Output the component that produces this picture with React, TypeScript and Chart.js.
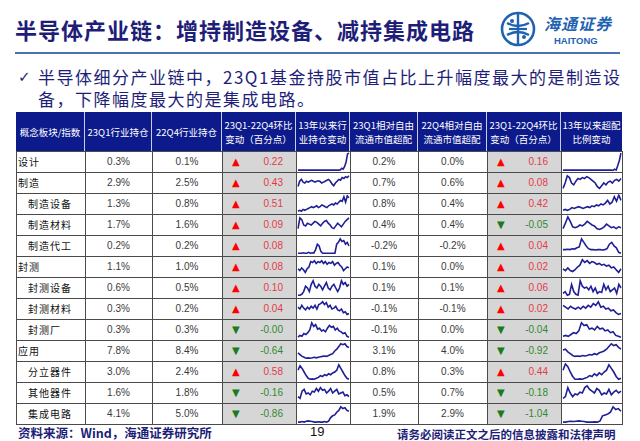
import React, { useEffect, useRef } from "react";
import { Chart, registerables } from "chart.js";
Chart.register(...registerables);

// ---------- data ----------
const categories = ["设计", "制造", "制造设备", "制造材料", "制造代工", "封测", "封测设备", "封测材料", "封测厂", "应用", "分立器件", "其他器件", "集成电路"];
const indentLevels = [0, 0, 1, 1, 1, 0, 1, 1, 1, 0, 1, 1, 1];
const holding23Q1 = ["0.3%", "2.9%", "1.3%", "1.7%", "0.2%", "1.1%", "0.6%", "0.3%", "0.3%", "7.8%", "3.0%", "1.6%", "4.1%"];
const holding22Q4 = ["0.1%", "2.5%", "0.8%", "1.6%", "0.2%", "1.0%", "0.5%", "0.2%", "0.3%", "8.4%", "2.4%", "1.8%", "5.0%"];
const holdingChange = ["0.22", "0.43", "0.51", "0.09", "0.08", "0.08", "0.10", "0.04", "-0.00", "-0.64", "0.58", "-0.16", "-0.86"];
const over23Q1 = ["0.2%", "0.7%", "0.8%", "0.4%", "-0.2%", "0.1%", "0.1%", "-0.1%", "-0.1%", "3.1%", "0.8%", "0.5%", "1.9%"];
const over22Q4 = ["0.0%", "0.6%", "0.4%", "0.4%", "-0.2%", "0.0%", "0.1%", "-0.1%", "0.0%", "4.0%", "0.3%", "0.7%", "2.9%"];
const overChange = ["0.16", "0.08", "0.42", "-0.05", "0.04", "0.02", "0.06", "0.02", "-0.04", "-0.92", "0.44", "-0.18", "-1.04"];

const headerLabels = [
  ["概念板块/指数"],
  ["23Q1行业持仓"],
  ["22Q4行业持仓"],
  ["23Q1-22Q4环比", "变动（百分点）"],
  ["13年以来行", "业持仓变动"],
  ["23Q1相对自由", "流通市值超配"],
  ["22Q4相对自由", "流通市值超配"],
  ["23Q1-22Q4环比", "变动（百分点）"],
  ["13年以来超配", "比例变动"],
];

// 13年以来行业持仓变动 (sparkline values, estimated)
const holdTrend设计 = [0.05, 0.05, 0.05, 0.05, 0.05, 0.05, 0.05, 0.05, 0.05, 0.05, 0.05, 0.05, 0.05, 0.05, 0.05, 0.05, 0.05, 0.05, 0.05, 0.05, 0.05, 0.05, 0.05, 0.05, 0.05, 0.05, 0.05, 0.05, 0.05, 0.06, 0.15, 0.1, 0.25, 0.5, 0.95, 1.0];
const holdTrend制造 = [0.3, 0.6, 0.7, 0.55, 0.5, 0.6, 0.55, 0.6, 0.65, 0.6, 0.55, 0.6, 0.62, 0.58, 0.5, 0.55, 0.6, 0.65, 0.7, 0.6, 0.45, 0.35, 0.5, 0.6, 0.7, 0.65, 0.8, 0.75, 0.85, 0.8, 0.9];
const holdTrend制造设备 = [0.1, 0.15, 0.1, 0.2, 0.15, 0.2, 0.25, 0.3, 0.35, 0.3, 0.35, 0.4, 0.3, 0.35, 0.45, 0.4, 0.35, 0.3, 0.4, 0.45, 0.5, 0.45, 0.55, 0.5, 0.6, 0.7, 0.65, 0.9, 0.6, 0.95, 0.85];
const holdTrend制造材料 = [0.3, 0.9, 0.8, 0.5, 0.45, 0.6, 0.55, 0.5, 0.6, 0.7, 0.65, 0.55, 0.45, 0.6, 0.7, 0.75, 0.6, 0.5, 0.35, 0.3, 0.45, 0.6, 0.5, 0.4, 0.55, 0.7, 0.8, 0.9];
const holdTrend制造代工 = [0.1, 0.1, 0.1, 0.12, 0.1, 0.1, 0.15, 0.1, 0.12, 0.1, 0.3, 0.6, 0.5, 0.2, 0.1, 0.1, 0.1, 0.1, 0.1, 0.1, 0.1, 0.1, 0.6, 0.7, 0.9, 0.75, 0.8, 0.6, 0.7, 0.5];
const holdTrend封测 = [0.4, 0.3, 0.45, 0.35, 0.2, 0.4, 0.5, 0.8, 0.75, 0.85, 0.7, 0.8, 0.75, 0.85, 0.7, 0.8, 0.65, 0.75, 0.7, 0.8, 0.6, 0.7, 0.75, 0.6, 0.5, 0.3, 0.4, 0.5, 0.45];
const holdTrend封测设备 = [0.1, 0.1, 0.15, 0.3, 0.6, 0.5, 0.3, 0.7, 0.9, 0.6, 0.5, 0.7, 0.6, 0.4, 0.6, 0.8, 0.5, 0.4, 0.6, 0.7, 0.5, 0.3, 0.5, 0.9, 0.7, 0.8, 0.6, 0.7];
const holdTrend封测材料 = [0.6, 0.5, 0.7, 0.55, 0.45, 0.6, 0.5, 0.65, 0.55, 0.7, 0.5, 0.75, 0.8, 0.9, 0.75, 0.85, 0.6, 0.7, 0.5, 0.55, 0.65, 0.45, 0.4, 0.5, 0.3, 0.35, 0.2, 0.25];
const holdTrend封测厂 = [0.1, 0.2, 0.15, 0.3, 0.25, 0.35, 0.5, 0.9, 0.7, 0.8, 0.55, 0.6, 0.45, 0.5, 0.4, 0.6, 0.75, 0.65, 0.7, 0.5, 0.6, 0.45, 0.4, 0.3, 0.35, 0.15, 0.1];
const holdTrend应用 = [0.4, 0.3, 0.2, 0.15, 0.1, 0.12, 0.1, 0.12, 0.15, 0.12, 0.15, 0.18, 0.2, 0.22, 0.2, 0.25, 0.3, 0.35, 0.5, 0.6, 0.75, 0.9, 0.85, 0.9, 0.75, 0.7];
const holdTrend分立器件 = [0.6, 0.85, 0.7, 0.5, 0.3, 0.15, 0.1, 0.12, 0.1, 0.15, 0.2, 0.3, 0.25, 0.35, 0.3, 0.4, 0.35, 0.45, 0.5, 0.6, 0.9, 0.7, 0.5, 0.3, 0.15, 0.1];
const holdTrend其他器件 = [0.3, 0.2, 0.6, 0.7, 0.45, 0.5, 0.4, 0.6, 0.55, 0.75, 0.6, 0.8, 0.65, 0.7, 0.5, 0.6, 0.75, 0.5, 0.6, 0.7, 0.45, 0.5, 0.55, 0.35, 0.4, 0.3];
const holdTrend集成电路 = [0.05, 0.05, 0.08, 0.05, 0.1, 0.12, 0.1, 0.08, 0.05, 0.05, 0.07, 0.05, 0.05, 0.08, 0.05, 0.1, 0.3, 0.4, 0.45, 0.6, 0.7, 0.9, 0.8, 0.85, 0.7, 0.65];

// 13年以来超配比例变动 (sparkline values, estimated)
const overTrend设计 = [0.05, 0.05, 0.05, 0.05, 0.05, 0.05, 0.05, 0.05, 0.05, 0.05, 0.05, 0.05, 0.05, 0.05, 0.05, 0.05, 0.05, 0.05, 0.05, 0.05, 0.05, 0.05, 0.05, 0.05, 0.05, 0.05, 0.05, 0.05, 0.05, 0.05, 0.05, 0.03, 0.1, 0.05, 0.3, 0.6, 1.0];
const overTrend制造 = [0.2, 0.5, 0.9, 0.8, 0.5, 0.4, 0.6, 0.75, 0.7, 0.8, 0.75, 0.85, 0.8, 0.7, 0.6, 0.5, 0.3, 0.2, 0.35, 0.5, 0.4, 0.55, 0.6, 0.5, 0.65, 0.7, 0.6, 0.75];
const overTrend制造设备 = [0.15, 0.2, 0.15, 0.2, 0.3, 0.25, 0.3, 0.35, 0.3, 0.25, 0.3, 0.35, 0.3, 0.4, 0.35, 0.45, 0.4, 0.5, 0.45, 0.55, 0.7, 0.5, 0.6, 0.9, 0.65, 1.0, 0.7];
const overTrend制造材料 = [0.3, 0.6, 0.95, 0.7, 0.4, 0.35, 0.4, 0.5, 0.45, 0.55, 0.7, 0.6, 0.5, 0.45, 0.3, 0.25, 0.3, 0.4, 0.55, 0.45, 0.35, 0.4, 0.3, 0.4, 0.35];
const overTrend制造代工 = [0.3, 0.3, 0.32, 0.3, 0.35, 0.33, 0.4, 0.45, 0.9, 0.7, 0.5, 0.35, 0.3, 0.3, 0.28, 0.3, 0.3, 0.28, 0.3, 0.35, 0.6, 0.7, 0.5, 0.4, 0.15, 0.1];
const overTrend封测 = [0.4, 0.3, 0.45, 0.3, 0.25, 0.35, 0.5, 0.6, 0.9, 0.75, 0.85, 0.7, 0.8, 0.75, 0.65, 0.7, 0.6, 0.65, 0.55, 0.6, 0.45, 0.5, 0.35, 0.2, 0.4];
const overTrend封测设备 = [0.2, 0.3, 0.1, 0.15, 0.7, 0.3, 0.15, 0.1, 0.9, 0.6, 0.5, 0.55, 0.4, 0.6, 0.3, 0.5, 0.2, 0.3, 0.25, 0.7, 0.4, 0.6, 0.3, 0.4, 0.5, 0.2, 0.7, 0.5];
const overTrend封测材料 = [0.7, 0.6, 0.5, 0.65, 0.55, 0.5, 0.6, 0.5, 0.65, 0.55, 0.7, 0.6, 0.8, 0.7, 0.9, 0.6, 0.65, 0.5, 0.55, 0.4, 0.45, 0.3, 0.2, 0.25];
const overTrend封测厂 = [0.15, 0.2, 0.15, 0.25, 0.35, 0.3, 0.45, 0.9, 0.75, 0.8, 0.55, 0.6, 0.5, 0.7, 0.55, 0.6, 0.45, 0.5, 0.35, 0.4, 0.2, 0.15, 0.1];
const overTrend应用 = [0.55, 0.6, 0.45, 0.35, 0.25, 0.2, 0.22, 0.2, 0.25, 0.22, 0.25, 0.3, 0.28, 0.35, 0.3, 0.4, 0.45, 0.5, 0.6, 0.75, 0.9, 0.8, 0.85, 0.7, 0.6];
const overTrend分立器件 = [0.6, 0.95, 0.8, 0.5, 0.25, 0.1, 0.1, 0.12, 0.1, 0.15, 0.2, 0.3, 0.25, 0.4, 0.3, 0.45, 0.35, 0.5, 0.6, 0.9, 0.7, 0.5, 0.25, 0.1, 0.15];
const overTrend其他器件 = [0.2, 0.3, 0.8, 0.5, 0.3, 0.45, 0.4, 0.55, 0.5, 0.8, 0.9, 0.7, 0.6, 0.5, 0.75, 0.65, 0.4, 0.5, 0.45, 0.7, 0.4, 0.55, 0.65, 0.5, 0.6];
const overTrend集成电路 = [0.05, 0.05, 0.08, 0.1, 0.08, 0.1, 0.12, 0.1, 0.08, 0.05, 0.05, 0.05, 0.06, 0.05, 0.1, 0.4, 0.45, 0.5, 0.6, 0.9, 0.75, 0.8, 0.65];

const holdTrends = [holdTrend设计, holdTrend制造, holdTrend制造设备, holdTrend制造材料, holdTrend制造代工, holdTrend封测, holdTrend封测设备, holdTrend封测材料, holdTrend封测厂, holdTrend应用, holdTrend分立器件, holdTrend其他器件, holdTrend集成电路];
const overTrends = [overTrend设计, overTrend制造, overTrend制造设备, overTrend制造材料, overTrend制造代工, overTrend封测, overTrend封测设备, overTrend封测材料, overTrend封测厂, overTrend应用, overTrend分立器件, overTrend其他器件, overTrend集成电路];

// ---------- layout ----------
const COLS = [16, 85, 152, 222, 296, 350, 418, 487, 561, 622];
const HEADER_TOP = 112;
const HEADER_BOTTOM = 151;
const ROW_H = 21;
const NAVY = "#0d1a8c";
const TEXT_NAVY = "#1e1e78";
const CJK = '"Noto Sans CJK SC", "DejaVu Sans", sans-serif';
const LATIN = '"Liberation Sans", Arial, "Noto Sans CJK SC", sans-serif';

function Sparkline({ data, left, top, width, height }: { data: number[]; left: number; top: number; width: number; height: number }) {
  const ref = useRef<HTMLCanvasElement | null>(null);
  useEffect(() => {
    if (!ref.current) return;
    const chart = new Chart(ref.current, {
      type: "line",
      data: {
        labels: data.map((_, i) => String(i)),
        datasets: [
          {
            data,
            borderColor: "#1f1f96",
            borderWidth: 1.6,
            pointRadius: 0,
            tension: 0,
            fill: false,
          },
        ],
      },
      options: {
        animation: false,
        responsive: false,
        maintainAspectRatio: false,
        events: [],
        layout: { padding: { top: 1, bottom: 1, left: 1, right: 1 } },
        plugins: { legend: { display: false }, tooltip: { enabled: false } },
        scales: {
          x: { display: false },
          y: { display: false },
        },
      },
    });
    return () => chart.destroy();
  }, [data]);
  return <canvas ref={ref} width={width} height={height} style={{ position: "absolute", left, top, width, height }} />;
}

function ChangeCell({ value, left, top, width }: { value: string; left: number; top: number; width: number }) {
  const down = value.startsWith("-");
  return (
    <>
      <div
        style={{
          position: "absolute",
          left: left + 10,
          top,
          height: ROW_H,
          lineHeight: ROW_H + "px",
          fontSize: 10,
          fontFamily: '"DejaVu Sans", sans-serif',
          color: down ? "#1b7a1b" : "#ff0000",
        }}
      >
        {down ? "▼" : "▲"}
      </div>
      <div
        style={{
          position: "absolute",
          left,
          top,
          width: width - 13,
          height: ROW_H,
          lineHeight: ROW_H + "px",
          textAlign: "right",
          fontSize: 10,
          fontFamily: LATIN,
          color: down ? "#2f8a2f" : "#e23a46",
        }}
      >
        {value}
      </div>
    </>
  );
}

function Logo() {
  return (
    <svg width={40} height={40} viewBox="0 0 40 40" style={{ position: "absolute", left: 498, top: 9 }}>
      <circle cx={20} cy={20} r={16} fill="none" stroke="#1f63b0" strokeWidth={2.6} />
      <path d="M20 5 L20 35" stroke="#1f63b0" strokeWidth={2.4} />
      <path d="M9 14 Q20 20 31 14" fill="none" stroke="#1f63b0" strokeWidth={2.4} />
      <path d="M9 26 Q20 20 31 26" fill="none" stroke="#1f63b0" strokeWidth={2.4} />
      <path d="M11 20 L29 20" stroke="#1f63b0" strokeWidth={2.2} />
      <circle cx={14} cy={12} r={2} fill="#1f63b0" />
      <circle cx={26} cy={28} r={2} fill="#1f63b0" />
    </svg>
  );
}

export default function App() {
  const rowsTop = (i: number) => HEADER_BOTTOM + i * ROW_H;
  const cells: React.ReactNode[] = [];

  // header
  cells.push(
    <div key="hdrbg" style={{ position: "absolute", left: COLS[0], top: HEADER_TOP, width: COLS[9] - COLS[0], height: HEADER_BOTTOM - HEADER_TOP, background: NAVY }} />
  );
  headerLabels.forEach((lines, c) => {
    cells.push(
      <div
        key={"h" + c}
        style={{
          position: "absolute",
          left: COLS[c],
          top: HEADER_TOP,
          width: COLS[c + 1] - COLS[c],
          height: HEADER_BOTTOM - HEADER_TOP,
          boxSizing: "border-box",
          borderRight: c < 8 ? "1px solid #c8cce8" : "none",
          display: "flex",
          flexDirection: "column",
          justifyContent: "center",
          alignItems: "center",
          color: "#ffffff",
          fontSize: 9.5,
          lineHeight: "14px",
          fontFamily: CJK,
          whiteSpace: "nowrap",
        }}
      >
        {lines.map((l, k) => (
          <div key={k}>{l}</div>
        ))}
      </div>
    );
  });

  // body
  categories.forEach((name, i) => {
    const top = rowsTop(i);
    for (let c = 0; c < 9; c++) {
      const gray = c === 3 || c === 7;
      cells.push(
        <div
          key={`b${i}-${c}`}
          style={{
            position: "absolute",
            left: COLS[c],
            top,
            width: COLS[c + 1] - COLS[c] + 1,
            height: ROW_H + 1,
            boxSizing: "border-box",
            border: "1px solid #4a4a4a",
            background: gray ? "#d6d6d6" : "#ffffff",
          }}
        />
      );
    }
    cells.push(
      <div
        key={`n${i}`}
        style={{
          position: "absolute",
          left: COLS[0] + 2 + indentLevels[i] * 10,
          top,
          height: ROW_H,
          lineHeight: ROW_H + "px",
          fontSize: 10,
          letterSpacing: 1,
          fontFamily: CJK,
          color: "#111",
          whiteSpace: "nowrap",
        }}
      >
        {name}
      </div>
    );
    const plain: [number, string][] = [
      [1, holding23Q1[i]],
      [2, holding22Q4[i]],
      [5, over23Q1[i]],
      [6, over22Q4[i]],
    ];
    plain.forEach(([c, v]) => {
      cells.push(
        <div
          key={`v${i}-${c}`}
          style={{
            position: "absolute",
            left: COLS[c],
            top,
            width: COLS[c + 1] - COLS[c],
            height: ROW_H,
            lineHeight: ROW_H + "px",
            textAlign: "center",
            fontSize: 10,
            fontFamily: LATIN,
            color: "#3a3a3a",
          }}
        >
          {v}
        </div>
      );
    });
    cells.push(<ChangeCell key={`c1-${i}`} value={holdingChange[i]} left={COLS[3]} top={top} width={COLS[4] - COLS[3]} />);
    cells.push(<ChangeCell key={`c2-${i}`} value={overChange[i]} left={COLS[7]} top={top} width={COLS[8] - COLS[7]} />);
    cells.push(<Sparkline key={`s1-${i}`} data={holdTrends[i]} left={COLS[4] + 1} top={top + 1} width={COLS[5] - COLS[4] - 1} height={ROW_H - 1} />);
    cells.push(<Sparkline key={`s2-${i}`} data={overTrends[i]} left={COLS[8] + 1} top={top + 1} width={COLS[9] - COLS[8] - 1} height={ROW_H - 1} />);
  });

  return (
    <div style={{ position: "absolute", left: 0, top: 0, width: 640, height: 441, background: "#ffffff", overflow: "hidden" }}>
      {/* title */}
      <div
        style={{
          position: "absolute",
          left: 15,
          top: 14,
          fontSize: 22,
          lineHeight: "30px",
          letterSpacing: 1,
          fontWeight: 700,
          fontFamily: CJK,
          color: TEXT_NAVY,
          whiteSpace: "nowrap",
        }}
      >
        半导体产业链：增持制造设备、减持集成电路
      </div>
      <Logo />
      <div style={{ position: "absolute", left: 544, top: 12, fontSize: 16, lineHeight: "22px", fontWeight: 700, fontStyle: "italic", fontFamily: CJK, color: "#1f63b0", letterSpacing: 1, whiteSpace: "nowrap" }}>
        海通证券
      </div>
      <div style={{ position: "absolute", left: 554, top: 35, fontSize: 9.5, lineHeight: "12px", fontWeight: 700, fontFamily: LATIN, color: "#1f63b0", whiteSpace: "nowrap" }}>
        HAITONG
      </div>
      <div style={{ position: "absolute", left: 15, top: 52, width: 605, height: 1.5, background: "#4a72b0" }} />

      {/* bullet */}
      <div style={{ position: "absolute", left: 18, top: 66, fontSize: 15, lineHeight: "22px", fontFamily: '"DejaVu Sans", sans-serif', color: TEXT_NAVY }}>✓</div>
      <div
        style={{
          position: "absolute",
          left: 38,
          top: 66,
          width: 590,
          fontSize: 17,
          lineHeight: "22px",
          letterSpacing: 1.5,
          fontFamily: CJK,
          color: TEXT_NAVY,
        }}
      >
        半导体细分产业链中，23Q1基金持股市值占比上升幅度最大的是制造设备，下降幅度最大的是集成电路。
      </div>

      {/* table */}
      {cells}

      {/* footer */}
      <div style={{ position: "absolute", left: 18, top: 424, fontSize: 12.5, lineHeight: "18px", fontWeight: 700, fontFamily: CJK, color: TEXT_NAVY, whiteSpace: "nowrap" }}>
        资料来源：Wind，海通证券研究所
      </div>
      <div style={{ position: "absolute", left: 310, top: 424, fontSize: 13, lineHeight: "16px", fontFamily: LATIN, color: "#111", whiteSpace: "nowrap" }}>19</div>
      <div style={{ position: "absolute", left: 397, top: 426, fontSize: 11.5, lineHeight: "16px", fontWeight: 700, fontFamily: CJK, color: TEXT_NAVY, whiteSpace: "nowrap" }}>
        请务必阅读正文之后的信息披露和法律声明
      </div>
    </div>
  );
}
